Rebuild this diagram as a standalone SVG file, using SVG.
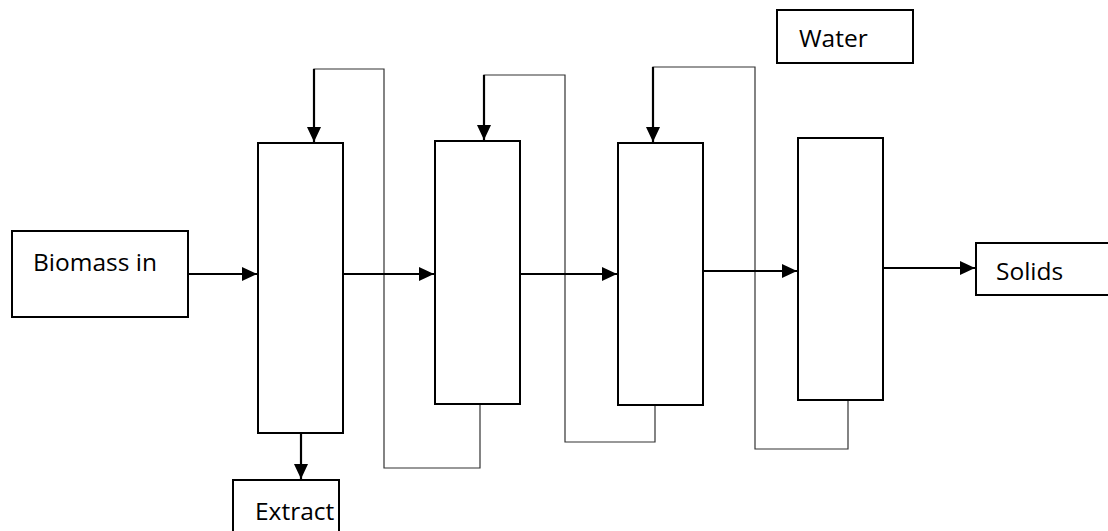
<svg xmlns="http://www.w3.org/2000/svg" width="1108" height="531" viewBox="0 0 1108 531">
<style>
.box{fill:#fff;stroke:#000;stroke-width:2}
.lbl{font-family:"Open Sans","Liberation Sans",sans-serif;font-size:24.5px;fill:#000}
.arr{fill:none;stroke:#000;stroke-width:2.2;marker-end:url(#ah)}
.thin{fill:none;stroke:#333;stroke-width:1.2}
</style>
<defs>
<marker id="ah" viewBox="0 0 10 10" refX="10" refY="5" markerWidth="15" markerHeight="14" markerUnits="userSpaceOnUse" orient="auto" preserveAspectRatio="none">
<path d="M0,0 L10,5 L0,10 z" fill="#000"/>
</marker>
</defs>
<rect width="1108" height="531" fill="#fff"/>
<g id="connectors">
<path class="thin" d="M480,404 V468 H384 V69 H314 V80"/>
<path class="thin" d="M655,405 V442 H565 V75 H484 V86"/>
<path class="thin" d="M848,400 V449 H755 V67 H653 V80"/>
<path class="arr" d="M314,69 V142"/>
<path class="arr" d="M484,75 V140"/>
<path class="arr" d="M653,67 V142"/>
<path class="arr" d="M188,274 H257"/>
<path class="arr" d="M343,274 H434"/>
<path class="arr" d="M520,274 H617"/>
<path class="arr" d="M703,271 H797"/>
<path class="arr" d="M883,268 H975"/>
<path class="arr" d="M301,433 V479"/>
</g>
<g id="biomass"><rect class="box" x="12" y="231" width="176" height="86"/><text class="lbl" x="33" y="271">Biomass in</text></g>
<g id="stage1"><rect class="box" x="258" y="143" width="85" height="290"/></g>
<g id="stage2"><rect class="box" x="435" y="141" width="85" height="263"/></g>
<g id="stage3"><rect class="box" x="618" y="143" width="85" height="262"/></g>
<g id="stage4"><rect class="box" x="798" y="138" width="85" height="262"/></g>
<g id="water"><rect class="box" x="777" y="10" width="136" height="53"/><text class="lbl" x="799" y="47">Water</text></g>
<g id="solids"><rect class="box" x="976" y="243" width="140" height="52"/><text class="lbl" x="996" y="280">Solids</text></g>
<g id="extract"><rect class="box" x="233" y="480" width="106" height="60"/><text class="lbl" x="255" y="520">Extract</text></g>
</svg>
